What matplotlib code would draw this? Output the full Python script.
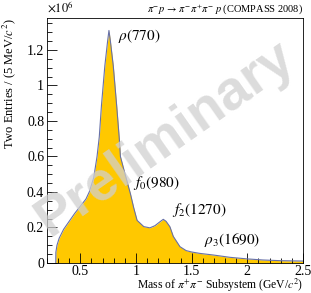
import matplotlib
matplotlib.use("Agg")
import matplotlib.pyplot as plt
from matplotlib.ticker import MultipleLocator, FuncFormatter

# pi+pi- invariant mass (GeV/c^2) and two-entries per 5 MeV (x 1e6)
mass = [0.279, 0.28, 0.29, 0.31, 0.35, 0.40, 0.45, 0.50, 0.55, 0.58, 0.62,
        0.65, 0.67, 0.69, 0.72, 0.745, 0.757, 0.77, 0.796, 0.826, 0.85, 0.86,
        0.90, 0.95, 0.98, 1.01, 1.07, 1.125, 1.17, 1.215, 1.245, 1.27, 1.305,
        1.335, 1.395, 1.45, 1.50, 1.575, 1.695, 1.844, 2.0, 2.14, 2.3, 2.5]
entries = [0.0, 0.06, 0.10, 0.14, 0.19, 0.235, 0.28, 0.32, 0.36, 0.40, 0.48,
           0.60, 0.71, 0.89, 1.11, 1.25, 1.31, 1.25, 1.11, 0.89, 0.70, 0.60,
           0.505, 0.39, 0.31, 0.24, 0.205, 0.198, 0.21, 0.232, 0.246, 0.235, 0.204,
           0.15, 0.092, 0.07, 0.062, 0.054, 0.045, 0.032, 0.023, 0.017, 0.013, 0.011]

# resonance labels and where they sit
res_labels = [r"$\rho(770)$", r"$f_0(980)$", r"$f_2(1270)$", r"$\rho_3(1690)$"]
res_x = [0.838, 0.973, 1.32, 1.61]
res_y = [1.28, 0.45, 0.30, 0.13]

plt.rcParams['font.family'] = ['Liberation Serif', 'DejaVu Serif']
plt.rcParams['mathtext.fontset'] = 'stix'

fig = plt.figure(figsize=(3.11, 2.93), dpi=100)
ax = fig.add_axes([0.151, 0.1024, 0.823, 0.836])

ax.fill_between(mass, entries, 0, color='#ffc800', lw=0)
ax.plot(mass, entries, color='#6670a8', lw=0.8)

for lab, x, y in zip(res_labels, res_x, res_y):
    ax.text(x, y, lab, fontsize=11, ha='left', va='center')

# watermark, drawn over the fill like the original
ax.text(1.26, 0.70, "Preliminary", fontsize=40, fontweight='bold',
        family='Liberation Sans', color='#d0d0d0', alpha=0.75, rotation=35,
        ha='center', va='center', transform=ax.transData, clip_on=False)

ax.set_xlim(0.2, 2.5)
ax.set_ylim(0, 1.38)
ax.xaxis.set_major_locator(MultipleLocator(0.5))
ax.xaxis.set_minor_locator(MultipleLocator(0.1))
ax.yaxis.set_major_locator(MultipleLocator(0.2))
ax.yaxis.set_minor_locator(MultipleLocator(0.05))
ax.xaxis.set_major_formatter(FuncFormatter(lambda v, p: "%g" % round(v, 2)))
ax.yaxis.set_major_formatter(FuncFormatter(lambda v, p: "%g" % round(v, 2)))
ax.tick_params(which='major', direction='in', length=7, width=0.6, labelsize=10, pad=2)
ax.tick_params(axis='x', which='major', pad=1.5)
ax.tick_params(which='minor', direction='in', length=3.5, width=0.6)
for s in ax.spines.values():
    s.set_linewidth(0.6)

ax.set_xlabel(r"Mass of $\pi^{+}\pi^{-}$ Subsystem (GeV/$c^{2}$)", fontsize=8.4, loc='right', labelpad=-1)
ax.set_ylabel(r"Two Entries / (5 MeV/$c^{2}$)", fontsize=9, loc='top', labelpad=6)

fig.text(0.151, 0.945, r"$\times10^{6}$", fontsize=9, ha='left', va='bottom')
fig.text(0.974, 0.945, r"$\pi^{-}p\,\rightarrow\,\pi^{-}\pi^{+}\pi^{-}\;p$ (COMPASS 2008)",
         fontsize=7.5, ha='right', va='bottom')

fig.savefig("out.png", dpi=100)
